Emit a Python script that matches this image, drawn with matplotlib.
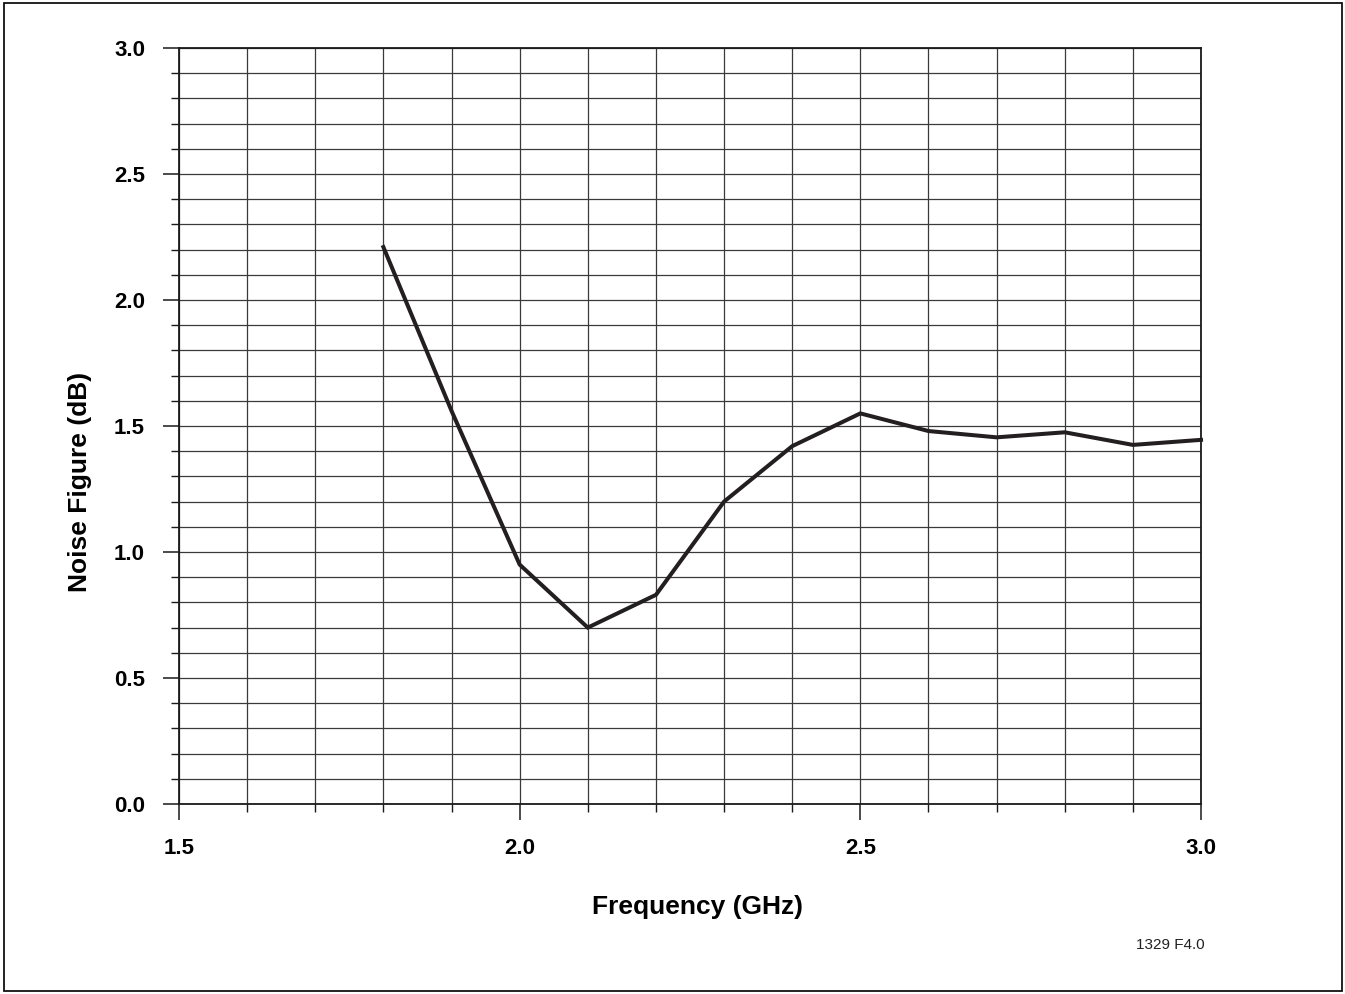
import matplotlib
matplotlib.use("Agg")
import matplotlib.pyplot as plt
from matplotlib.patches import Rectangle
import numpy as np

plt.rcParams['font.family'] = ['Liberation Sans', 'DejaVu Sans']

# Data
freq_ghz = [1.8, 1.9, 2.0, 2.1, 2.2, 2.3, 2.4, 2.5, 2.6, 2.7, 2.8, 2.9, 3.0]
noise_db = [2.21, 1.56, 0.95, 0.70, 0.83, 1.20, 1.42, 1.55, 1.48, 1.455, 1.475, 1.425, 1.445]
x_major = [1.5, 2.0, 2.5, 3.0]
x_labels = ["1.5", "2.0", "2.5", "3.0"]
y_major = [0.0, 0.5, 1.0, 1.5, 2.0, 2.5, 3.0]
y_labels = ["0.0", "0.5", "1.0", "1.5", "2.0", "2.5", "3.0"]

fig = plt.figure(figsize=(13.45, 9.94), dpi=100)
ax = fig.add_axes([179/1345, 1 - 804/994, (1201-179)/1345, (804-48)/994])

ax.set_xlim(1.5, 3.0)
ax.set_ylim(0.0, 3.0)
ax.set_xticks(x_major)
ax.set_xticklabels(x_labels)
ax.set_yticks(y_major)
ax.set_yticklabels(y_labels)
ax.set_xticks(np.round(np.arange(1.5, 3.001, 0.1), 2), minor=True)
ax.set_yticks(np.round(np.arange(0.0, 3.001, 0.1), 2), minor=True)

gridc = '#3a3a3a'
ax.grid(True, which='both', color=gridc, linewidth=0.9)
ax.set_axisbelow(True)

for s in ax.spines.values():
    s.set_color('#1a1a1a')
    s.set_linewidth(1.3)

ax.tick_params(axis='both', which='major', direction='out', length=11.5, width=1.1,
               color='#1a1a1a', labelsize=16, pad=13)
ax.tick_params(axis='both', which='minor', direction='out', length=5.8, width=1.0,
               color='#1a1a1a')
for lab in ax.get_xticklabels() + ax.get_yticklabels():
    lab.set_fontweight('bold')

ax.plot(freq_ghz, noise_db, color='#231f20', linewidth=2.9, solid_joinstyle='miter',
        clip_on=False, zorder=5)

ax.set_xlabel("Frequency (GHz)", fontsize=19, fontweight='bold', labelpad=26)
ax.set_ylabel("Noise Figure (dB)", fontsize=19, fontweight='bold', labelpad=16)
ax.xaxis.label.set_x((697 - 179) / 1022)
ax.yaxis.label.set_y((804 - 482) / 756)

fig.text(1205/1345, 1 - 945/994, "1329 F4.0", fontsize=11, ha='right', va='center',
         color='#222222')

fig.patches.append(Rectangle((4/1345, 3/994), (1342-4)/1345, (991-3)/994,
                             transform=fig.transFigure, fill=False,
                             edgecolor='#111111', linewidth=1.3))

fig.savefig("out.png", dpi=100)
